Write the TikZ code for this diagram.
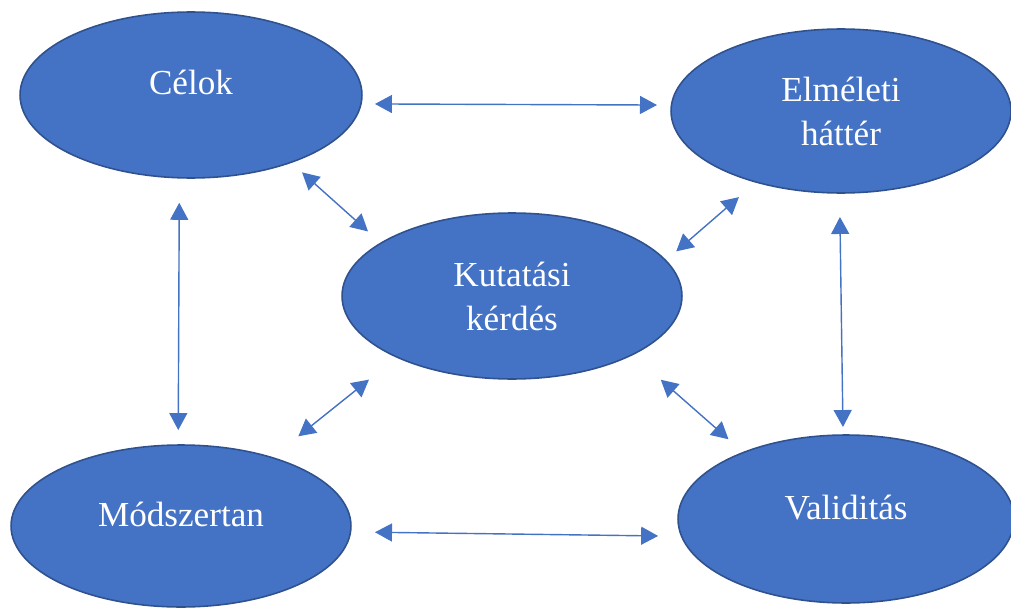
\documentclass[tikz,border=0pt]{standalone}
\usepackage{fontspec}
\setmainfont{Liberation Serif}
\usetikzlibrary{arrows.meta,shapes.geometric}
\definecolor{Blue}{HTML}{4472C4}
\definecolor{DarkBlue}{HTML}{2F528F}
\tikzset{
 oval/.style={ellipse, draw=DarkBlue, line width=0.9pt, fill=Blue, text=white, inner sep=0pt, outer sep=0pt, minimum width=6.8cm, minimum height=3.3cm, align=center, font=\fontsize{20}{25}\selectfont},
 oneline/.style={text height=0pt, text depth=0pt},
 arrow/.style={{Triangle[length=0.34cm,width=0.36cm]}-{Triangle[length=0.34cm,width=0.36cm]}, line width=0.8pt, draw=Blue}
}
\begin{document}
\begin{tikzpicture}[x=0.02cm,y=-0.02cm]
\useasboundingbox (0,0) rectangle (1011,608);
\node[oval,oneline,minimum width=6.84cm,minimum height=3.32cm] (cel) at (191,95) {Célok};
\node[oval,minimum height=3.28cm] (elm) at (841,111) {Elméleti\\háttér};
\node[oval,minimum height=3.32cm] (kut) at (512,296) {Kutatási\\kérdés};
\node[oval,oneline,minimum height=3.24cm] (mod) at (181,526) {Módszertan};
\node[oval,oneline,minimum width=6.72cm,minimum height=3.36cm] (val) at (846,519) {Validitás};
% outer ring
\draw[arrow,shorten <=0.28cm,shorten >=0.29cm] (cel.-3) -- (elm.178);
\draw[arrow,shorten <=0.5cm,shorten >=0.3cm] (cel.262) -- (mod.92);
\draw[arrow,shorten <=0.48cm,shorten >=0.16cm] (elm.269) -- (val.92);
\draw[arrow,shorten <=0.49cm,shorten >=0.47cm] (mod.-2) -- (val.186);
% to the centre
\draw[arrow,shorten <=0.3cm,shorten >=0.35cm] (cel.-34) -- (kut.158);
\draw[arrow,shorten <=0.46cm,shorten >=0.28cm] (elm.220) -- (kut.13);
\draw[arrow,shorten <=0.72cm,shorten >=0.68cm] (kut.208) -- (mod.37);
\draw[arrow,shorten <=0.76cm,shorten >=0.4cm] (kut.-26) -- (val.147);
\end{tikzpicture}
\end{document}
